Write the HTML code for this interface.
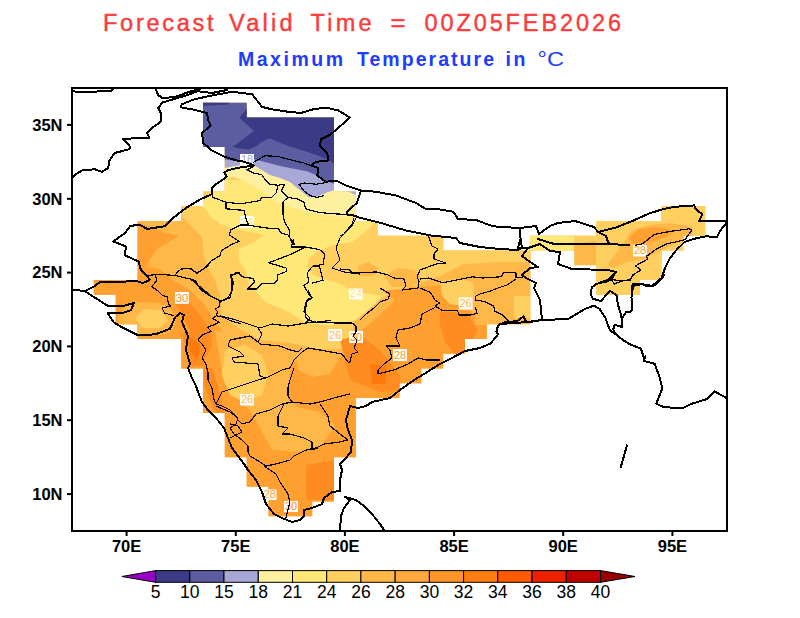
<!DOCTYPE html>
<html><head><meta charset="utf-8"><style>
html,body{margin:0;padding:0;background:#fff;width:800px;height:618px;overflow:hidden}
svg{display:block}
text{font-family:"Liberation Sans",sans-serif}
.t1{font-size:23.5px;fill:#fa3c3c;stroke:#fa3c3c;stroke-width:0.45px}
.t2{font-size:19.5px;fill:#1e3cff;font-weight:bold}
.t3{font-size:19.5px;fill:#1e3cff}
.ax{font-size:16.5px;fill:#000;font-weight:bold}
.lb{font-size:11px}
.cb{font-size:17.5px;fill:#000}
</style></head><body>
<svg width="800" height="618" viewBox="0 0 800 618">
<defs><clipPath id="m"><path d="M203.0 102.8H246.7V117.5H203.0ZM203.0 117.5H334.0V132.3H203.0ZM203.0 132.3H334.0V147.1H203.0ZM224.8 147.1H334.0V161.8H224.8ZM224.8 161.8H334.0V176.6H224.8ZM224.8 176.6H334.0V191.4H224.8ZM203.0 191.4H355.8V206.1H203.0ZM181.2 206.1H355.8V220.9H181.2ZM661.5 206.1H705.2V220.9H661.5ZM137.5 220.9H377.7V235.7H137.5ZM596.0 220.9H705.2V235.7H596.0ZM137.5 235.7H443.2V250.4H137.5ZM530.5 235.7H683.3V250.4H530.5ZM137.5 250.4H530.5V265.2H137.5ZM574.2 250.4H661.5V265.2H574.2ZM137.5 265.2H530.5V280.0H137.5ZM596.0 265.2H661.5V280.0H596.0ZM93.8 280.0H530.5V294.7H93.8ZM596.0 280.0H639.7V294.7H596.0ZM115.7 294.7H530.5V309.5H115.7ZM115.7 309.5H530.5V324.3H115.7ZM137.5 324.3H486.8V339.0H137.5ZM181.2 339.0H465.0V353.8H181.2ZM181.2 353.8H443.2V368.6H181.2ZM203.0 368.6H421.3V383.3H203.0ZM203.0 383.3H399.5V398.1H203.0ZM203.0 398.1H355.8V412.9H203.0ZM224.8 412.9H355.8V427.6H224.8ZM224.8 427.6H355.8V442.4H224.8ZM224.8 442.4H355.8V457.2H224.8ZM246.7 457.2H334.0V471.9H246.7ZM246.7 471.9H334.0V486.7H246.7ZM268.5 486.7H334.0V501.5H268.5ZM268.5 501.5H312.2V516.2H268.5Z"/></clipPath></defs>
<rect width="800" height="618" fill="#fff"/>
<g clip-path="url(#m)">
<rect x="72" y="88" width="655" height="443" fill="#ffb848"/>
<polygon points="90.0,150.0 170.0,200.0 181.0,215.0 191.0,226.0 202.0,237.0 204.0,255.0 207.0,267.0 215.0,280.0 220.0,296.0 222.0,316.0 238.0,328.0 260.0,340.0 290.0,343.0 317.0,349.0 345.0,349.0 351.0,340.0 355.0,318.0 372.0,303.0 395.0,292.0 420.0,283.0 440.0,276.0 463.0,264.0 500.0,262.0 531.0,262.0 540.0,250.0 600.0,240.0 730.0,200.0 730.0,100.0 90.0,100.0" fill="#ffd060"/>
<polygon points="596.0,220.0 730.0,200.0 730.0,300.0 596.0,300.0" fill="#ffd060"/>
<polygon points="195.0,180.0 213.0,190.0 200.0,205.0 206.2,210.0 211.2,217.5 220.0,223.8 230.0,227.5 240.0,230.0 252.5,232.5 263.8,235.0 253.8,242.5 238.8,248.8 238.8,260.0 242.0,265.0 245.0,270.0 249.0,284.0 265.0,302.0 284.5,310.0 307.0,323.0 330.0,326.0 356.0,320.0 375.5,303.5 382.0,296.0 373.0,294.5 364.0,293.0 350.5,290.0 340.0,284.0 325.0,279.5 313.0,275.0 307.0,266.0 308.5,258.5 317.5,251.0 334.0,245.0 352.0,242.0 364.0,233.0 376.0,221.0 382.0,212.0 380.0,190.0 360.0,180.0" fill="#ffe778"/>
<polygon points="358.0,266.0 368.0,262.0 378.0,268.0 374.0,276.0 360.0,276.0" fill="#ffb848"/>
<polygon points="384.0,276.0 398.0,268.0 415.0,270.0 422.0,280.0 410.0,287.0 392.0,287.0" fill="#ffb848"/>
<polygon points="528.0,234.0 574.0,234.0 574.0,251.0 528.0,251.0" fill="#ffe778"/>
<polygon points="195.0,170.0 225.0,180.0 232.0,176.5 240.0,179.0 250.0,184.0 260.0,190.0 268.0,195.0 273.0,200.0 290.0,207.0 312.6,213.2 335.3,216.6 360.0,217.0 365.0,160.0 195.0,150.0" fill="#fff0a0"/>
<polygon points="195.0,150.0 225.0,168.0 235.0,166.0 245.0,165.0 253.0,164.5 260.0,169.0 270.0,175.0 280.0,178.0 290.0,182.0 299.0,189.4 309.3,197.4 318.3,196.2 327.4,192.3 335.3,190.0 349.0,191.7 358.0,196.0 365.0,140.0 195.0,140.0" fill="#a8a8d6"/>
<polygon points="195.0,100.0 195.0,159.5 225.0,159.5 240.0,161.5 255.0,159.5 265.0,162.0 280.0,166.0 290.0,168.0 307.0,171.3 318.3,175.9 327.4,181.5 335.0,184.3 340.0,185.0 345.0,100.0" fill="#5c5ca0"/>
<polygon points="247.6,100.0 247.6,107.8 239.3,117.5 253.9,131.0 233.0,146.6 238.8,148.5 248.5,149.5 258.0,145.6 260.0,143.0 269.6,138.2 287.5,145.8 305.4,151.3 317.8,155.4 327.4,159.5 335.0,164.3 345.0,170.0 345.0,100.0" fill="#3a3a86"/>
<polygon points="201.0,102.0 229.0,102.0 229.0,104.5 201.0,106.0" fill="#3a3a86"/>
<polygon points="90.0,215.0 139.0,222.0 151.0,228.0 163.0,232.0 179.0,236.0 165.0,244.0 156.0,250.0 149.0,261.0 148.0,267.0 160.0,269.0 172.5,280.0 190.0,290.0 205.0,305.0 215.0,322.0 225.0,335.0 250.0,350.0 290.0,356.0 345.0,356.0 358.0,345.0 362.0,330.0 372.0,322.0 385.0,310.0 395.0,300.0 383.0,291.0 400.0,289.0 420.0,287.0 440.0,285.0 460.0,300.0 475.0,315.0 490.0,325.0 520.0,330.0 560.0,330.0 560.0,530.0 90.0,530.0" fill="#ffa030"/>
<polygon points="215.0,330.0 238.0,336.0 260.0,346.0 290.0,351.0 320.0,353.0 345.0,353.0 340.0,358.0 300.0,358.0 290.0,365.0 288.0,400.0 300.0,408.0 320.0,412.0 335.0,425.0 322.0,445.0 298.0,452.0 272.0,450.0 262.0,432.0 250.0,410.0 238.0,400.0 225.0,385.0 220.0,360.0" fill="#ffb848"/>
<polygon points="225.0,350.0 245.0,345.0 262.0,355.0 268.0,375.0 262.0,395.0 245.0,402.0 230.0,395.0 222.0,375.0" fill="#ffd060"/>
<polygon points="296.0,352.0 310.0,349.0 330.0,350.0 338.0,360.0 330.0,374.0 312.0,377.0 298.0,370.0" fill="#ffb848"/>
<polygon points="475.0,279.0 530.0,279.0 530.0,325.0 475.0,325.0" fill="#ffb848"/>
<polygon points="440.0,281.0 458.0,279.0 473.0,282.0 474.0,296.0 466.0,306.0 450.0,304.0 442.0,296.0" fill="#ffd060"/>
<polygon points="440.0,312.0 455.0,312.0 470.0,318.0 478.0,330.0 466.0,350.0 455.0,355.0 445.0,342.0 440.0,325.0" fill="#ff8c20"/>
<polygon points="514.0,296.0 530.0,296.0 530.0,318.0 514.0,318.0" fill="#ffd060"/>
<polygon points="607.5,264.4 618.8,249.4 632.0,230.6 648.8,225.0 671.0,223.0 692.0,227.0 692.0,240.0 675.0,243.8 660.0,251.0 645.0,258.8 626.0,262.5 613.0,268.0" fill="#ffb848"/>
<polygon points="628.0,238.0 639.0,229.0 656.0,227.0 675.0,230.6 667.5,236.0 652.5,242.0 634.0,244.0" fill="#ffa030"/>
<polygon points="118.0,318.0 125.0,306.0 140.0,302.0 160.0,303.0 172.0,310.0 176.0,322.0 170.0,333.0 150.0,336.0 130.0,334.0 120.0,328.0" fill="#ffb848"/>
<polygon points="135.0,318.0 145.0,309.0 160.0,310.0 168.0,320.0 160.0,328.0 142.0,328.0" fill="#ffd060"/>
<polygon points="175.0,303.0 188.0,300.0 200.0,315.0 210.0,330.0 212.0,345.0 205.0,360.0 198.0,350.0 185.0,320.0" fill="#ff8c20"/>
<polygon points="182.0,333.0 203.0,333.0 205.0,366.0 190.0,366.0" fill="#ff8c20"/>
<polygon points="340.0,340.0 360.0,335.0 380.0,350.0 400.0,375.0 401.0,391.0 380.0,392.0 350.0,380.0" fill="#ff8c20"/>
<polygon points="306.0,465.0 334.0,460.0 336.0,500.0 306.0,500.0" fill="#ff8c20"/>
<polygon points="203.0,366.0 212.0,368.0 218.0,385.0 222.0,405.0 226.0,418.0 218.0,418.0 210.0,400.0 204.0,385.0" fill="#ff8c20"/>
<polygon points="188.0,335.0 200.0,345.0 198.0,360.0 190.0,352.0" fill="#ff7a0a"/>
<polygon points="370.0,364.0 386.0,366.0 386.0,384.0 372.0,384.0" fill="#ff7a0a"/>
</g>
<rect x="240" y="154" width="14.0" height="11.5" fill="#fff"/>
<text x="247.0" y="163.3" text-anchor="middle" class="lb" fill="#a8a8d6">18</text>
<rect x="240" y="216" width="13.8" height="11.8" fill="#fff"/>
<text x="246.9" y="225.6" text-anchor="middle" class="lb" fill="#ffe778">24</text>
<rect x="175" y="292" width="13.8" height="11.8" fill="#fff"/>
<text x="181.9" y="301.6" text-anchor="middle" class="lb" fill="#ff8c20">30</text>
<rect x="349" y="288.5" width="13.5" height="11.0" fill="#fff"/>
<text x="355.8" y="297.3" text-anchor="middle" class="lb" fill="#ffe778">24</text>
<rect x="458.6" y="297.4" width="14.0" height="12.2" fill="#fff"/>
<text x="465.6" y="307.4" text-anchor="middle" class="lb" fill="#ffb848">26</text>
<rect x="328" y="329" width="14.0" height="12.0" fill="#fff"/>
<text x="335.0" y="338.8" text-anchor="middle" class="lb" fill="#ffb848">26</text>
<rect x="349" y="331" width="14.0" height="12.0" fill="#fff"/>
<text x="356.0" y="340.8" text-anchor="middle" class="lb" fill="#ff8c20">30</text>
<rect x="393" y="349" width="14.0" height="12.0" fill="#fff"/>
<text x="400.0" y="358.8" text-anchor="middle" class="lb" fill="#ffa030">28</text>
<rect x="240" y="394" width="14.0" height="11.5" fill="#fff"/>
<text x="247.0" y="403.3" text-anchor="middle" class="lb" fill="#ffb848">26</text>
<rect x="633" y="245" width="14.0" height="11.5" fill="#fff"/>
<text x="640.0" y="254.3" text-anchor="middle" class="lb" fill="#ffa030">28</text>
<rect x="263" y="489.5" width="13.5" height="10.5" fill="#fff"/>
<text x="269.8" y="497.8" text-anchor="middle" class="lb" fill="#ffa030">28</text>
<rect x="284" y="501" width="14.0" height="11.0" fill="#fff"/>
<text x="291.0" y="509.8" text-anchor="middle" class="lb" fill="#ff8c20">30</text>
<g fill="none" stroke="#000" stroke-width="1.6" stroke-linejoin="round" stroke-linecap="round" shape-rendering="crispEdges">
<polyline points="72.0,91.0 82.0,92.5 97.0,91.5 112.0,90.5 113.0,88.5" stroke-width="2"/>
<polyline points="227.0,90.0 212.0,93.0 197.5,91.2 187.5,95.0 175.0,98.8 162.5,102.5 158.2,108.0 160.8,113.0 160.8,121.8 152.0,128.0 147.0,133.0 149.5,138.0 137.0,138.0 123.2,139.2 129.5,145.5 129.5,149.2 114.5,153.0 109.5,160.5 108.2,168.0 102.0,171.8 94.5,169.2 82.0,170.5 75.8,174.2 72.0,178.0" stroke-width="2"/>
<polyline points="155.6,88.8 158.1,95.0 162.5,98.1 175.0,96.9 191.2,91.2 200.0,88.8" stroke-width="2"/>
<polyline points="182.0,104.2 194.5,99.2 212.0,95.5 232.0,91.8 252.0,94.2 257.0,100.5 262.0,106.8 271.0,109.2 288.5,111.8 301.0,113.0 313.5,109.2 326.0,107.5 338.5,110.5 349.8,117.5 341.0,125.5 331.0,134.2 321.0,139.2 319.8,145.5 327.2,153.0 328.5,160.5 316.0,161.8 311.0,165.5 318.5,168.0 317.2,175.5 326.0,181.8 336.0,180.5 346.0,185.5 361.0,190.5 376.0,191.8 396.0,195.5 416.0,203.0 426.0,209.2 438.5,209.2 453.5,211.8" stroke-width="2"/>
<polyline points="182.0,104.2 180.8,106.8 183.2,108.0 192.0,109.2 207.0,113.0 208.2,120.5 210.8,125.5 202.0,133.0 203.2,143.0 212.0,150.5 224.5,156.8 237.0,160.5 244.5,161.8 253.6,165.4" stroke-width="2"/>
<polyline points="253.6,165.4 248.8,166.2 237.4,167.9 227.6,170.3 224.4,172.8 226.8,176.8 216.2,184.1 212.2,188.2 212.2,194.0 200.0,199.5 187.5,207.0 182.5,210.5 173.8,217.5 165.0,226.2 147.5,228.9 138.8,224.5 130.0,226.2 125.0,233.0 113.4,241.4 126.0,246.5 124.7,255.2 138.5,261.5 141.0,270.3 147.3,276.6 149.8,279.5 148.8,280.6 142.5,283.0 135.0,280.6 122.5,281.9 100.0,281.9 94.4,286.2 85.0,291.2 72.0,289.4" stroke-width="2"/>
<polyline points="85.0,291.2 93.8,296.9 107.5,305.6 122.5,306.2 133.8,303.0 131.2,310.0 122.5,313.0 107.5,313.0 113.8,322.5 122.5,327.5 137.5,335.0 155.0,334.4 170.0,328.8 175.0,317.5 180.0,313.0 183.8,315.0" stroke-width="2"/>
<polyline points="361.0,190.5 356.8,203.0 346.6,212.0 346.6,214.4 353.4,215.5 360.2,217.8 369.3,220.0 381.0,223.0 406.0,230.5 431.0,235.5 456.0,238.0" stroke-width="2"/>
<polyline points="456.0,238.0 460.0,243.0 480.0,247.0 500.0,249.0 518.0,250.0 522.0,248.0 521.0,242.0 520.0,234.0 520.0,228.0" stroke-width="2"/>
<polyline points="453.5,211.8 458.0,219.0 476.0,220.0 492.0,226.0 500.0,227.0 502.0,227.0 520.0,228.0 536.0,226.0 539.0,234.0" stroke-width="2"/>
<polyline points="539.0,234.0 550.0,226.0 558.0,223.0 575.0,221.0 594.0,227.0 598.0,232.0 616.2,227.4 632.5,220.9 648.8,213.6 661.8,209.5 673.0,207.0 694.2,205.4 695.9,209.5 702.4,214.4 699.1,220.9 705.6,220.9 726.8,220.9" stroke-width="2"/>
<polyline points="726.8,222.5 720.2,230.6 717.0,237.0 705.6,236.3 694.2,238.8 684.5,242.0 676.4,250.0 669.9,258.2 665.0,268.0 661.8,277.8 652.0,285.9 642.2,284.2 632.5,285.9 632.5,290.0" stroke-width="2"/>
<polyline points="538.0,239.0 554.0,244.0 570.0,244.0 590.0,244.0 610.0,244.0 629.2,245.2" stroke-width="2"/>
<polyline points="598.0,232.0 606.0,236.0 608.0,242.0 610.0,244.0" stroke-width="2"/>
<polyline points="520.0,240.0 518.0,248.0 528.0,248.0 522.0,256.0 530.0,262.0 538.0,267.0 530.0,268.0 522.0,275.0 526.0,278.0 536.0,283.0 534.0,288.0 540.0,300.0 542.0,320.0 528.0,322.0 500.0,324.0" stroke-width="2"/>
<polyline points="528.0,248.0 540.0,244.0 550.0,251.0 560.0,252.0 558.0,264.0 572.0,269.0 608.0,270.0 616.0,272.0 608.0,280.0 596.3,284.0 591.8,287.5 590.7,294.3 593.0,298.8 600.9,301.0 610.0,290.9 616.7,295.4 617.9,304.5 621.3,315.8 622.4,327.0 614.5,324.9 613.3,329.4 615.6,334.0" stroke-width="2"/>
<polyline points="183.8,315.0 182.0,322.0 188.0,336.0 186.0,350.0 190.0,364.0 188.0,368.0 192.0,378.0 196.0,386.0 198.0,392.0 202.0,402.0 208.0,410.0 216.0,418.0 224.0,428.0 228.0,438.0 232.0,448.0 238.0,456.0 244.0,464.0 248.0,470.0 256.0,480.0 262.0,492.0 266.0,504.0 274.0,514.0 282.0,518.0 292.0,522.0 300.0,520.0 304.0,516.0 304.0,510.0 312.0,508.0 322.0,504.0 324.0,498.0 332.0,492.0 340.0,491.0 340.0,480.0 342.0,470.0 340.0,464.0 344.0,460.0 351.0,452.0 352.0,440.0 348.0,430.0 346.0,420.0 350.0,406.0 358.0,408.0 366.0,406.0 372.0,402.0 390.0,398.0 400.0,390.0 414.0,380.0 424.0,374.0 440.0,364.0 452.0,358.0 465.0,351.0 480.0,348.0 490.5,343.5 498.0,334.5 496.5,331.5 498.0,325.5 504.0,322.5 517.5,321.0 523.5,316.5 526.5,322.5 542.0,320.0" stroke-width="2"/>
<polyline points="340.0,530.0 341.0,516.0 344.0,508.0 350.0,500.0 345.0,497.0 356.0,500.0 364.0,506.0 372.0,514.0 380.0,524.0 384.0,530.0" stroke-width="2"/>
<polyline points="644.0,358.0 640.8,348.5 629.2,344.0 622.4,339.6 615.6,334.0 610.0,330.5 605.4,318.0 599.7,309.0 594.0,305.6 585.0,309.0 568.0,319.0 542.0,320.0" stroke-width="2"/>
<polyline points="622.4,318.0 625.8,312.4 631.5,311.3 631.5,297.7 632.6,284.0 641.7,283.5 647.3,286.3 653.0,286.3 659.8,280.7 664.3,275.0" stroke-width="2"/>
<polyline points="645.4,356.0 643.8,360.8 654.6,363.8 659.2,376.0 662.3,388.5 656.2,403.8 663.8,407.0 682.3,408.5 691.5,403.8 707.0,399.0 714.6,391.5 726.0,397.7" stroke-width="2"/>
<polyline points="627.0,445.4 620.8,467.0" stroke-width="2"/>
<polyline points="253.6,162.2 265.0,155.7 278.0,156.5 291.0,159.8 304.0,163.0 311.0,165.5" stroke-width="1.2"/>
<polyline points="356.0,218.0 352.0,226.0 340.0,238.0 336.0,248.0 340.0,260.0 332.0,268.0 344.0,272.0 360.0,274.0" stroke-width="1.2"/>
<polyline points="354.0,218.0 352.0,224.0 344.0,234.0 340.0,236.0" stroke-width="1.2"/>
<polyline points="253.6,166.5 247.0,169.8 253.6,173.0 261.8,174.6 265.0,179.5 270.0,184.4 278.0,185.2 284.5,184.4" stroke-width="1.2"/>
<polyline points="278.0,185.2 276.4,192.5 271.5,197.4 261.8,197.4 260.0,200.6 240.6,203.9 226.0,202.2 213.0,197.4 211.4,192.5" stroke-width="1.2"/>
<polyline points="226.0,202.2 226.0,208.8 243.9,210.4 245.5,216.9 247.1,221.8 248.8,225.0 256.9,226.6 268.2,228.2 278.0,228.2 281.2,233.1 287.8,234.8 294.2,244.5 293.2,240.0 291.5,247.0 305.5,247.0 319.5,249.6 324.8,254.0 323.0,264.5 312.5,266.2 307.2,273.2 309.0,282.0 303.8,285.5 309.0,294.2 312.5,297.8 307.2,299.5 305.5,310.0 305.5,317.0 309.0,320.5 316.0,322.2 330.0,320.5" stroke-width="1.2"/>
<polyline points="248.8,225.0 240.6,225.0 230.9,229.9 229.2,234.8 239.0,241.2 230.2,245.2 221.5,250.5 219.8,255.8 211.0,261.0 207.5,266.2 197.0,273.2 190.0,268.0" stroke-width="1.2"/>
<polyline points="284.5,184.4 281.2,190.9 287.8,197.4 297.5,199.0 304.0,202.2 305.6,208.8 317.0,212.0 330.0,213.6 346.6,214.4" stroke-width="1.2"/>
<polyline points="287.8,197.4 282.9,202.2 282.9,213.6 284.5,221.8 289.4,229.9 289.4,236.4 292.6,244.5 293.2,240.0" stroke-width="1.2"/>
<polyline points="299.0,184.4 304.0,190.9 310.5,195.8 317.0,197.4 323.5,195.8" stroke-width="1.2"/>
<polyline points="190.0,278.5 200.5,287.2 211.0,296.0 221.5,301.2 230.2,297.8 232.0,289.0 232.0,278.5 230.2,275.0 239.0,273.2 242.5,276.8 253.0,278.5 254.8,282.0 247.8,289.0 256.5,289.0 261.8,283.8 274.0,283.8 277.5,280.2 277.5,275.0 286.2,271.5 286.2,268.0 268.8,262.8 291.5,254.0 305.5,247.0" stroke-width="1.2"/>
<polyline points="319.5,266.2 323.0,280.2 312.5,283.0" stroke-width="1.2"/>
<polyline points="312.5,266.2 319.5,266.2" stroke-width="1.2"/>
<polyline points="149.0,275.5 156.8,274.2 175.0,275.5 177.6,271.7 181.5,269.0 189.2,268.4 197.0,273.0 203.5,269.0 210.0,262.6 211.0,261.0" stroke-width="1.2"/>
<polyline points="155.5,275.5 156.8,280.7 151.7,286.5 158.1,291.0 162.0,295.0 167.2,297.0 168.5,304.0 171.0,306.0 162.0,308.0 164.6,313.0 173.7,315.7" stroke-width="1.2"/>
<polyline points="175.0,275.5 191.8,279.4 195.7,280.7 198.3,286.0 200.9,289.8 208.7,295.0 216.4,298.9 220.3,301.5 219.0,306.6 215.1,309.2 217.7,311.8 216.4,315.7 212.5,318.3 219.0,322.2 213.8,324.8 207.3,327.4 211.2,331.2 202.2,335.1 199.6,337.7 198.0,340.0 202.0,344.0 206.0,350.0 202.0,358.0 206.0,364.0 208.0,372.0 208.0,380.0 212.0,388.0 214.0,400.0 216.0,404.0" stroke-width="1.2"/>
<polyline points="220.3,301.5 228.0,297.6 232.0,291.0 233.3,282.0 230.7,276.8 235.8,273.0 240.0,273.0" stroke-width="1.2"/>
<polyline points="216.4,315.7 222.9,317.0 230.7,320.9 240.0,323.5" stroke-width="1.2"/>
<polyline points="258.0,328.0 262.0,334.0 258.0,342.0 250.0,336.0 230.0,340.0 228.0,346.0 240.0,352.0 244.0,356.0 232.0,358.0 234.0,362.0 258.0,364.0 260.0,376.0 266.0,378.0 282.0,370.0 290.0,368.0 294.0,360.0 302.0,352.0 308.0,348.0 320.0,350.0 342.0,354.0 348.0,362.0 350.0,363.0" stroke-width="1.2"/>
<polyline points="258.0,342.0 260.0,344.0 280.0,346.0 290.0,350.0 298.0,352.0 302.0,348.0" stroke-width="1.2"/>
<polyline points="294.0,368.0 292.0,374.0 290.0,380.0 288.0,388.0 288.0,396.0 292.0,402.0" stroke-width="1.2"/>
<polyline points="216.0,404.0 222.0,392.0 240.0,386.0 258.0,380.0 266.0,378.0" stroke-width="1.2"/>
<polyline points="216.0,404.0 222.0,406.0 230.0,410.0 236.0,416.0 238.0,420.0 242.0,424.0 250.0,422.0 256.0,414.0 270.0,410.0 282.0,404.0 292.0,402.0 310.0,404.0 320.0,402.0 334.0,398.0 350.0,394.0" stroke-width="1.2"/>
<polyline points="230.0,424.0 238.0,426.0 242.0,432.0 230.0,438.0" stroke-width="1.2"/>
<polyline points="216.0,406.0 230.0,412.0 238.0,418.0 236.0,424.0 230.0,428.0 234.0,434.0 242.0,440.0 248.0,446.0 248.0,452.0 250.0,456.0 260.0,462.0 266.0,466.0 276.0,464.0 290.0,460.0 294.0,456.0 306.0,450.0 316.0,448.0 324.0,444.0 340.0,442.0 348.0,440.0" stroke-width="1.2"/>
<polyline points="284.0,404.0 278.0,416.0 278.0,426.0 288.0,428.0 282.0,434.0 290.0,434.0 304.0,438.0 312.0,442.0 312.0,450.0 318.0,448.0" stroke-width="1.2"/>
<polyline points="320.0,404.0 328.0,416.0 330.0,426.0 340.0,434.0 348.0,440.0" stroke-width="1.2"/>
<polyline points="264.0,466.0 276.0,474.0 280.0,482.0 284.0,488.0 288.0,494.0 290.0,502.0 288.0,510.0 286.0,518.0" stroke-width="1.2"/>
<polyline points="596.3,284.0 607.7,281.8 612.2,278.4 614.5,275.0" stroke-width="1.2"/>
<polyline points="611.0,279.5 614.5,284.0 622.4,280.7 630.3,280.7 632.6,275.0" stroke-width="1.2"/>
<polyline points="635.4,245.3 642.3,243.9 654.6,234.3 669.8,231.5 689.0,228.8 691.8,230.1 684.9,239.8" stroke-width="1.2"/>
<polyline points="684.9,239.8 667.0,243.9 656.0,249.4 646.4,256.3 647.8,259.0 635.4,265.9 640.9,270.0 634.0,274.2 629.9,279.6 623.0,281.0 612.0,279.6 606.5,281.0" stroke-width="1.2"/>
<polyline points="299.0,184.4 304.0,183.0 316.0,184.2 324.0,183.0 331.0,180.5" stroke-width="1.2"/>
<polyline points="428.0,235.0 432.0,246.0 438.0,249.0 434.0,254.0 434.0,259.0 446.0,263.0 436.0,264.0 420.0,270.0 417.0,277.0 419.0,281.0 418.0,288.0" stroke-width="1.2"/>
<polyline points="340.0,269.0 350.0,270.0 352.0,273.0 376.0,272.0 388.0,275.0 394.0,278.0 404.0,279.0 406.0,286.0 402.0,290.0 418.0,288.0" stroke-width="1.2"/>
<polyline points="380.0,288.0 390.0,294.0 388.0,299.0 380.0,302.0 374.0,308.0 366.0,314.0 360.0,320.0" stroke-width="1.2"/>
<polyline points="220.0,316.0 236.0,320.0 248.0,324.0 260.0,328.0 272.0,324.0 288.0,326.0 300.0,324.0 306.0,323.0 320.0,322.0 336.0,323.0 352.0,323.0 356.0,326.0 356.0,332.0 353.0,336.0 357.0,340.0 356.0,343.0 354.0,348.0 358.0,352.0 352.0,354.0 350.0,362.0" stroke-width="1.2"/>
<polyline points="308.0,290.0 312.0,298.0 306.0,302.0 304.0,312.0 310.0,318.0 306.0,323.0" stroke-width="1.2"/>
<polyline points="438.0,304.0 434.0,308.0 422.0,314.0 420.0,324.0 410.0,328.0 398.0,330.0 396.0,338.0 400.0,346.0 386.0,346.0 390.0,350.0 392.0,358.0 384.0,364.0 378.0,370.0 378.0,374.0" stroke-width="1.2"/>
<polyline points="378.0,374.0 394.0,370.0 408.0,364.0 418.0,358.0 426.0,360.0 440.0,360.0" stroke-width="1.2"/>
<polyline points="420.0,279.0 429.0,278.0 442.5,282.8 457.5,279.8 472.5,276.8 483.0,278.0 501.0,276.8 504.0,272.2 516.0,273.0 516.0,277.5 522.0,277.5" stroke-width="1.2"/>
<polyline points="516.0,279.0 507.0,285.0 498.0,288.0 490.5,291.0 480.0,294.0 475.5,296.2 475.5,300.0 484.5,301.5 493.5,306.0 495.0,311.2 502.5,315.0 508.5,321.0" stroke-width="1.2"/>
<polyline points="475.5,307.5 477.0,313.5 471.0,315.0 459.0,315.0 457.5,310.5 450.0,310.5 442.5,310.5 435.0,306.0 439.5,303.0 435.0,300.0 430.5,292.5 420.0,288.0" stroke-width="1.2"/>
</g>
<rect x="72" y="88" width="655" height="443" fill="none" stroke="#000" stroke-width="2"/>
<line x1="67" y1="124.9" x2="72" y2="124.9" stroke="#000" stroke-width="2"/>
<text x="62.5" y="130.7" text-anchor="end" class="ax">35N</text>
<line x1="67" y1="198.8" x2="72" y2="198.8" stroke="#000" stroke-width="2"/>
<text x="62.5" y="204.6" text-anchor="end" class="ax">30N</text>
<line x1="67" y1="272.6" x2="72" y2="272.6" stroke="#000" stroke-width="2"/>
<text x="62.5" y="278.4" text-anchor="end" class="ax">25N</text>
<line x1="67" y1="346.4" x2="72" y2="346.4" stroke="#000" stroke-width="2"/>
<text x="62.5" y="352.2" text-anchor="end" class="ax">20N</text>
<line x1="67" y1="420.2" x2="72" y2="420.2" stroke="#000" stroke-width="2"/>
<text x="62.5" y="426.1" text-anchor="end" class="ax">15N</text>
<line x1="67" y1="494.1" x2="72" y2="494.1" stroke="#000" stroke-width="2"/>
<text x="62.5" y="499.9" text-anchor="end" class="ax">10N</text>
<line x1="126.6" y1="531" x2="126.6" y2="536" stroke="#000" stroke-width="2"/>
<text x="126.6" y="551.8" text-anchor="middle" class="ax">70E</text>
<line x1="235.8" y1="531" x2="235.8" y2="536" stroke="#000" stroke-width="2"/>
<text x="235.8" y="551.8" text-anchor="middle" class="ax">75E</text>
<line x1="344.9" y1="531" x2="344.9" y2="536" stroke="#000" stroke-width="2"/>
<text x="344.9" y="551.8" text-anchor="middle" class="ax">80E</text>
<line x1="454.1" y1="531" x2="454.1" y2="536" stroke="#000" stroke-width="2"/>
<text x="454.1" y="551.8" text-anchor="middle" class="ax">85E</text>
<line x1="563.2" y1="531" x2="563.2" y2="536" stroke="#000" stroke-width="2"/>
<text x="563.2" y="551.8" text-anchor="middle" class="ax">90E</text>
<line x1="672.4" y1="531" x2="672.4" y2="536" stroke="#000" stroke-width="2"/>
<text x="672.4" y="551.8" text-anchor="middle" class="ax">95E</text>
<text x="103.0" y="31" textLength="110.5" lengthAdjust="spacing" class="t1">Forecast</text>
<text x="229.0" y="31" textLength="63.5" lengthAdjust="spacing" class="t1">Valid</text>
<text x="310.5" y="31" textLength="61.0" lengthAdjust="spacing" class="t1">Time</text>
<text x="390.5" y="31" textLength="15.0" lengthAdjust="spacingAndGlyphs" class="t1">=</text>
<text x="424.5" y="31" textLength="196.5" lengthAdjust="spacing" class="t1">00Z05FEB2026</text>
<text x="238.0" y="66" textLength="105.0" lengthAdjust="spacing" class="t2">Maximum</text>
<text x="357.0" y="66" textLength="137.0" lengthAdjust="spacing" class="t2">Temperature</text>
<text x="505.5" y="66" textLength="20.0" lengthAdjust="spacing" class="t2">in</text>
<text x="537.5" y="66" textLength="26.5" lengthAdjust="spacingAndGlyphs" class="t3">°C</text>
<polygon points="155.6,570.6 121.9,576.5 155.6,582.3" fill="#9a00c8" stroke="#000" stroke-width="1"/>
<rect x="155.6" y="570.6" width="34.2" height="11.7" fill="#3a3a86" stroke="#000" stroke-width="1"/>
<rect x="189.8" y="570.6" width="34.2" height="11.7" fill="#5c5ca0" stroke="#000" stroke-width="1"/>
<rect x="224.0" y="570.6" width="34.2" height="11.7" fill="#a8a8d6" stroke="#000" stroke-width="1"/>
<rect x="258.3" y="570.6" width="34.2" height="11.7" fill="#fff0a0" stroke="#000" stroke-width="1"/>
<rect x="292.5" y="570.6" width="34.2" height="11.7" fill="#ffe778" stroke="#000" stroke-width="1"/>
<rect x="326.7" y="570.6" width="34.2" height="11.7" fill="#ffd060" stroke="#000" stroke-width="1"/>
<rect x="360.9" y="570.6" width="34.2" height="11.7" fill="#ffb848" stroke="#000" stroke-width="1"/>
<rect x="395.2" y="570.6" width="34.2" height="11.7" fill="#ffa83c" stroke="#000" stroke-width="1"/>
<rect x="429.4" y="570.6" width="34.2" height="11.7" fill="#ff9428" stroke="#000" stroke-width="1"/>
<rect x="463.6" y="570.6" width="34.2" height="11.7" fill="#ff7c10" stroke="#000" stroke-width="1"/>
<rect x="497.8" y="570.6" width="34.2" height="11.7" fill="#ff5a00" stroke="#000" stroke-width="1"/>
<rect x="532.1" y="570.6" width="34.2" height="11.7" fill="#ee2000" stroke="#000" stroke-width="1"/>
<rect x="566.3" y="570.6" width="34.2" height="11.7" fill="#c00000" stroke="#000" stroke-width="1"/>
<polygon points="600.5,570.6 635,576.5 600.5,582.3" fill="#960000" stroke="#000" stroke-width="1"/>
<text x="155.6" y="597.5" text-anchor="middle" class="cb">5</text>
<text x="189.8" y="597.5" text-anchor="middle" class="cb">10</text>
<text x="224.0" y="597.5" text-anchor="middle" class="cb">15</text>
<text x="258.3" y="597.5" text-anchor="middle" class="cb">18</text>
<text x="292.5" y="597.5" text-anchor="middle" class="cb">21</text>
<text x="326.7" y="597.5" text-anchor="middle" class="cb">24</text>
<text x="360.9" y="597.5" text-anchor="middle" class="cb">26</text>
<text x="395.2" y="597.5" text-anchor="middle" class="cb">28</text>
<text x="429.4" y="597.5" text-anchor="middle" class="cb">30</text>
<text x="463.6" y="597.5" text-anchor="middle" class="cb">32</text>
<text x="497.8" y="597.5" text-anchor="middle" class="cb">34</text>
<text x="532.1" y="597.5" text-anchor="middle" class="cb">36</text>
<text x="566.3" y="597.5" text-anchor="middle" class="cb">38</text>
<text x="600.5" y="597.5" text-anchor="middle" class="cb">40</text>
</svg>
</body></html>
